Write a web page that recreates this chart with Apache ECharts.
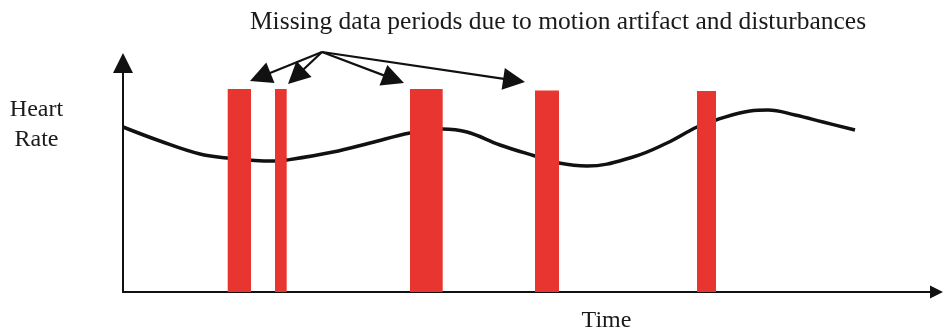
<!DOCTYPE html>
<html>
<head>
<meta charset="utf-8">
<script src="https://cdn.jsdelivr.net/npm/echarts@6/dist/echarts.min.js"></script>
<style>html,body{margin:0;padding:0;background:#fff}#c{width:943px;height:336px}</style>
</head>
<body>
<div id="c"></div>
<script>
// Heart-rate trace: [time, heart rate] in arbitrary units
var heartRate = [
  [0,165],[37,151],[77,138],[104,134],[132,131.5],[152,131],[164,132],[210,140],
  [247,149],[287,159],[319,163],[344,160],[377,147],[412,136],[436,129],[464,126],
  [510,135],[544,149],[574,165],[593,172],[627,181],[645,182],[672,177],[700,170],[732,162]
];
// Missing data periods: [start, end, height]
var missingPeriods = [
  [104.7,128,203],[152,163.7,203],[287,319.7,203],[412,436,201.5],[574,593,201]
];
// Annotation arrows: from label point to each gap
var arrowFrom = [199,240];
var arrowTo = [[137.2,215.1],[173,215.5],[270.7,212.9],[391.1,211.6]];
var titleText = 'Missing data periods due to motion artifact and disturbances';
var yLabel = ['Heart','Rate'];
var xLabel = 'Time';

var serif = '"Liberation Serif","DejaVu Serif",serif';
var tri = 'path://M5,0 L10,10 L0,10 Z';

var chart = echarts.init(document.getElementById('c'));
chart.setOption({
  animation: false,
  backgroundColor: '#fff',
  grid: {left:123, right:6.5, top:63, bottom:44},
  xAxis: {type:'value', min:0, max:813.5,
    axisLine:{show:true, onZero:false, symbol:['none',tri], symbolSize:[20,13], lineStyle:{color:'#111',width:2}},
    axisTick:{show:false}, axisLabel:{show:false}, splitLine:{show:false}},
  yAxis: {type:'value', min:0, max:229,
    axisLine:{show:true, onZero:false, symbol:['none',tri], symbolSize:[21,20], lineStyle:{color:'#111',width:2}},
    axisTick:{show:false}, axisLabel:{show:false}, splitLine:{show:false}},
  graphic: [
    {type:'text', x:558, y:22.5, style:{text:titleText, font:'25.5px '+serif, fill:'#1a1a1a', align:'center', verticalAlign:'middle'}},
    {type:'text', x:36.5, y:109.8, style:{text:yLabel[0], font:'24px '+serif, fill:'#1a1a1a', align:'center', verticalAlign:'middle'}},
    {type:'text', x:36.5, y:139.8, style:{text:yLabel[1], font:'24px '+serif, fill:'#1a1a1a', align:'center', verticalAlign:'middle'}},
    {type:'text', x:606.5, y:320.8, style:{text:xLabel, font:'24px '+serif, fill:'#1a1a1a', align:'center', verticalAlign:'middle'}}
  ],
  series: [
    {type:'line', data:heartRate, smooth:0.4, showSymbol:false, z:2,
      lineStyle:{color:'#111', width:3.5}},
    {type:'custom', z:5, data:missingPeriods,
      renderItem: function(params, api){
        var p0 = api.coord([api.value(0), api.value(2)]);
        var p1 = api.coord([api.value(1), 0]);
        return {type:'rect', shape:{x:p0[0], y:p0[1], width:p1[0]-p0[0], height:p1[1]-p0[1]},
          style:{fill:'#e8352f'}};
      }},
    {type:'lines', coordinateSystem:'cartesian2d', clip:false, z:6,
      symbol:['none',tri], symbolSize:22,
      lineStyle:{color:'#111', width:2.2, opacity:1},
      itemStyle:{color:'#111'},
      data: arrowTo.map(function(t){ return {coords:[arrowFrom, t]}; })}
  ]
});
</script>
</body>
</html>
